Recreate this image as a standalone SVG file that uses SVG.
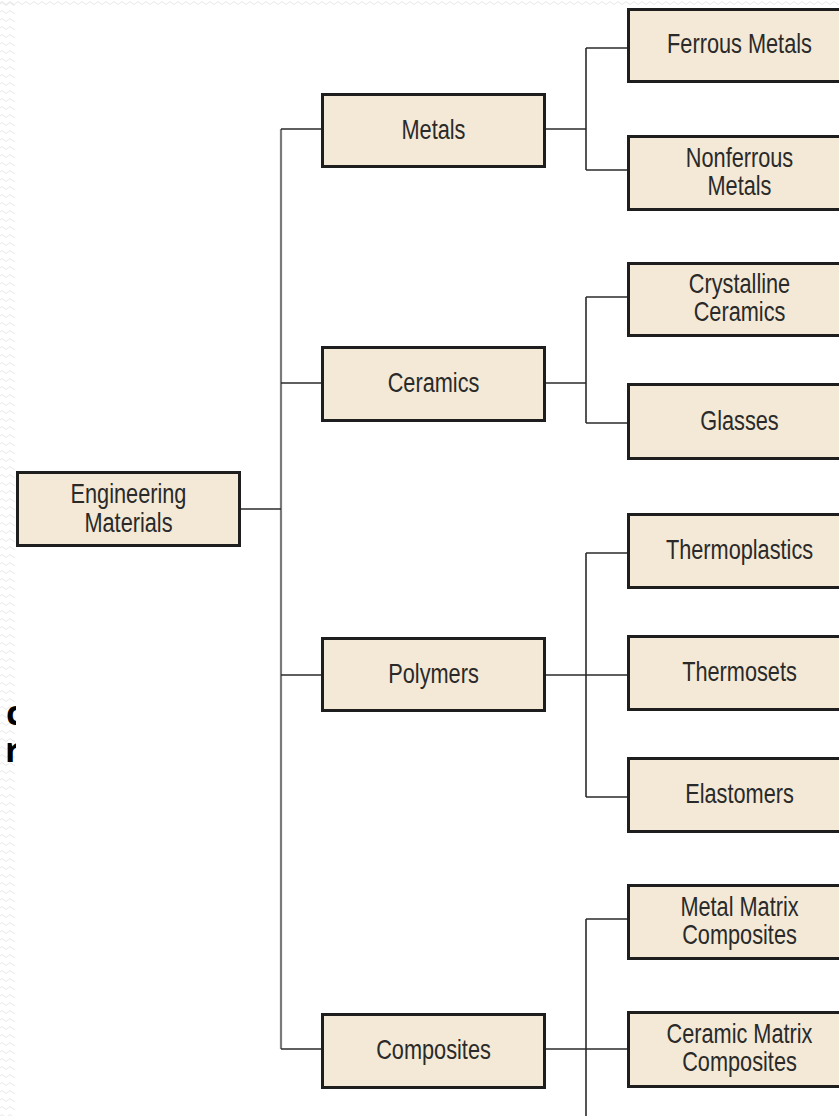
<svg xmlns="http://www.w3.org/2000/svg" width="839" height="1116" viewBox="0 0 839 1116">
  <defs>
    <pattern id="wave" x="0" y="0" width="8" height="8" patternUnits="userSpaceOnUse">
      <path d="M0 4 Q2 1 4 4 T8 4" fill="none" stroke="#e8e8e8" stroke-width="1"/>
    </pattern>
    <pattern id="waveH" x="0" y="0" width="8" height="6" patternUnits="userSpaceOnUse">
      <path d="M0 3 Q2 0 4 3 T8 3" fill="none" stroke="#e8e8e8" stroke-width="1"/>
    </pattern>
    <clipPath id="cut">
      <rect x="0" y="680" width="16" height="100"/>
    </clipPath>
  </defs>
  <style>
    .box { fill: #f3e9d6; stroke: #1e1e1e; stroke-width: 3; }
    .lbl { font-family: "Liberation Sans", Arial, sans-serif; font-size: 27.5px; fill: #2a2a2a; text-anchor: middle; }
    .con { fill: none; stroke: #2b2b2b; stroke-width: 1.6; }
    .trunk { fill: none; stroke: #7a7a7a; stroke-width: 2.2; }
    .side { font-family: "Open Sans", "DejaVu Sans", sans-serif; font-weight: bold; font-size: 34px; fill: #000; }
  </style>
  <rect width="839" height="1116" fill="#ffffff"/>
  <rect x="0" y="0" width="15" height="1116" fill="url(#wave)"/>
  <rect x="0" y="0" width="839" height="5" fill="url(#waveH)"/>

  <g id="connectors">
    <path class="trunk" d="M281 129 V1049"/>
    <path class="con" d="M241 509 H281"/>
    <path class="con" d="M281 129 H321 M281 383 H321 M281 675 H321 M281 1049 H321"/>
    <path class="con" d="M546 129 H586 M586 48 V170 M586 48 H627 M586 170 H627"/>
    <path class="con" d="M546 383 H586 M586 297 V423 M586 297 H627 M586 423 H627"/>
    <path class="con" d="M546 675 H627 M586 553 V797 M586 553 H627 M586 797 H627"/>
    <path class="con" d="M546 1049 H627 M586 919 V1116 M586 919 H627"/>
  </g>

  <g id="engineering-materials">
    <rect class="box" x="17.5" y="472.5" width="222" height="73"/>
    <text class="lbl" transform="translate(128.5 503) scale(0.79 1)">Engineering</text>
    <text class="lbl" transform="translate(128.5 532) scale(0.79 1)">Materials</text>
  </g>

  <g id="metals">
    <rect class="box" x="322.5" y="94.5" width="222" height="72"/>
    <text class="lbl" transform="translate(433.5 139) scale(0.79 1)">Metals</text>
  </g>
  <g id="ceramics">
    <rect class="box" x="322.5" y="347.5" width="222" height="73"/>
    <text class="lbl" transform="translate(433.5 392) scale(0.79 1)">Ceramics</text>
  </g>
  <g id="polymers">
    <rect class="box" x="322.5" y="638.5" width="222" height="72"/>
    <text class="lbl" transform="translate(433.5 683) scale(0.79 1)">Polymers</text>
  </g>
  <g id="composites">
    <rect class="box" x="322.5" y="1014.5" width="222" height="73"/>
    <text class="lbl" transform="translate(433.5 1059) scale(0.79 1)">Composites</text>
  </g>

  <g id="ferrous-metals">
    <rect class="box" x="628.5" y="9.5" width="222" height="72"/>
    <text class="lbl" transform="translate(739.5 53) scale(0.79 1)">Ferrous Metals</text>
  </g>
  <g id="nonferrous-metals">
    <rect class="box" x="628.5" y="136.5" width="222" height="73"/>
    <text class="lbl" transform="translate(739.5 167) scale(0.79 1)">Nonferrous</text>
    <text class="lbl" transform="translate(739.5 195) scale(0.79 1)">Metals</text>
  </g>
  <g id="crystalline-ceramics">
    <rect class="box" x="628.5" y="263.5" width="222" height="72"/>
    <text class="lbl" transform="translate(739.5 293) scale(0.79 1)">Crystalline</text>
    <text class="lbl" transform="translate(739.5 321) scale(0.79 1)">Ceramics</text>
  </g>
  <g id="glasses">
    <rect class="box" x="628.5" y="384.5" width="222" height="74"/>
    <text class="lbl" transform="translate(739.5 430) scale(0.79 1)">Glasses</text>
  </g>
  <g id="thermoplastics">
    <rect class="box" x="628.5" y="514.5" width="222" height="73"/>
    <text class="lbl" transform="translate(739.5 559) scale(0.79 1)">Thermoplastics</text>
  </g>
  <g id="thermosets">
    <rect class="box" x="628.5" y="636.5" width="222" height="73"/>
    <text class="lbl" transform="translate(739.5 681) scale(0.79 1)">Thermosets</text>
  </g>
  <g id="elastomers">
    <rect class="box" x="628.5" y="758.5" width="222" height="73"/>
    <text class="lbl" transform="translate(739.5 803) scale(0.79 1)">Elastomers</text>
  </g>
  <g id="metal-matrix-composites">
    <rect class="box" x="628.5" y="885.5" width="222" height="73"/>
    <text class="lbl" transform="translate(739.5 916) scale(0.79 1)">Metal Matrix</text>
    <text class="lbl" transform="translate(739.5 944) scale(0.79 1)">Composites</text>
  </g>
  <g id="ceramic-matrix-composites">
    <rect class="box" x="628.5" y="1012.5" width="222" height="74"/>
    <text class="lbl" transform="translate(739.5 1043) scale(0.79 1)">Ceramic Matrix</text>
    <text class="lbl" transform="translate(739.5 1071) scale(0.79 1)">Composites</text>
  </g>

  <g id="side-text" clip-path="url(#cut)">
    <text class="side"><tspan x="6" y="725">c</tspan><tspan x="5" y="762">r</tspan></text>
  </g>
</svg>
